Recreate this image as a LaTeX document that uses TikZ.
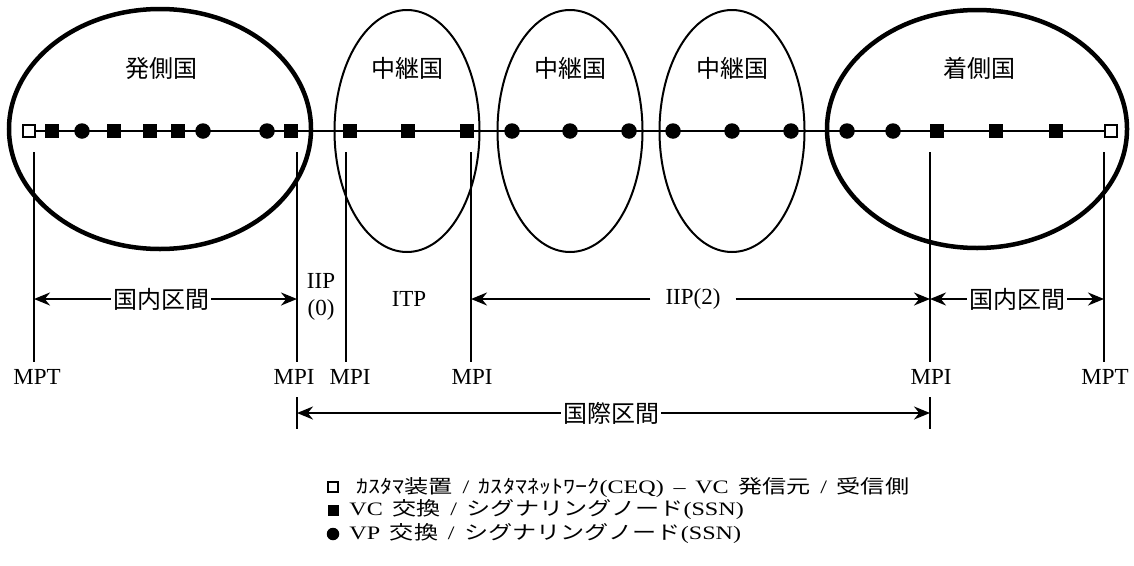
\documentclass[tikz,border=0pt]{standalone}
\usepackage{fontspec}
\setmainfont{Liberation Serif}
\newfontfamily\jp{Noto Sans CJK JP}
\newfontfamily\keyfont[WordSpace=1.6]{Liberation Serif}
\usetikzlibrary{arrows.meta,shapes.geometric}

\begin{document}
\begin{tikzpicture}[x=1pt,y=-1pt,>={Stealth[length=16pt,width=13pt]},line width=2.2pt,
  vc/.style={fill=black,minimum size=14pt,inner sep=0pt},
  ceq/.style={draw=black,line width=1.8pt,fill=white,minimum size=12pt,inner sep=0pt},
  vp/.style={circle,fill=black,minimum size=15.5pt,inner sep=0pt},
  endland/.style={ellipse,draw,line width=4.5pt,inner sep=0pt},
  transit/.style={ellipse,draw,line width=2pt,inner sep=0pt,minimum width=145pt,minimum height=242pt},
  cname/.style={font=\jp\fontsize{24}{28}\selectfont},
  mp/.style={font=\fontsize{23}{26}\selectfont,inner sep=6pt},
  span/.style={font=\jp\fontsize{24}{28}\selectfont,inner sep=1pt},
  key/.style={anchor=west,xscale=1.27,transform shape,font=\keyfont\fontsize{19}{22}\selectfont,inner sep=0pt}]
\useasboundingbox (0,0) rectangle (1134,565);
% countries
\node[endland,minimum width=302pt,minimum height=240pt] (orig) at (160,129) {};
\node[transit] (trA) at (407,131) {};
\node[transit] (trB) at (570,131) {};
\node[transit] (trC) at (732,131) {};
\node[endland,minimum width=300pt,minimum height=238pt] (dest) at (977,129) {};
\node[cname] at (161,68) {発側国};
\node[cname] at (407,68) {中継国};
\node[cname] at (570,68) {中継国};
\node[cname] at (732,68) {中継国};
\node[cname] at (979,68) {着側国};
% nodes on the connection
\node[ceq] (ceqA) at (29,131) {};
\node[vc] (vcA1) at (52,131) {};
\node[vp] (vpA1) at (82,131) {};
\node[vc] (vcA2) at (114,131) {};
\node[vc] (vcA3) at (150,131) {};
\node[vc] (vcA4) at (178,131) {};
\node[vp] (vpA2) at (203,131) {};
\node[vp] (vpA3) at (267,131) {};
\node[vc] (vcA5) at (291,131) {};
\node[vc] (vcB1) at (350,131) {};
\node[vc] (vcB2) at (408,131) {};
\node[vc] (vcB3) at (467,131) {};
\node[vp] (vpC1) at (512,131) {};
\node[vp] (vpC2) at (570,131) {};
\node[vp] (vpC3) at (629,131) {};
\node[vp] (vpD1) at (673,131) {};
\node[vp] (vpD2) at (732,131) {};
\node[vp] (vpD3) at (791,131) {};
\node[vp] (vpE1) at (847,131) {};
\node[vp] (vpE2) at (893,131) {};
\node[vc] (vcE1) at (937,131) {};
\node[vc] (vcE2) at (996,131) {};
\node[vc] (vcE3) at (1056,131) {};
\node[ceq] (ceqE) at (1111,131) {};
\draw (ceqA) -- (ceqE);
% measurement points
\coordinate (tA) at (34,152);
\coordinate (tB) at (297,152);
\coordinate (tC) at (346,152);
\coordinate (tD) at (471,152);
\coordinate (tE) at (930,152);
\coordinate (tF) at (1104,152);
\node[mp] (mptA) at (37,377) {MPT};
\node[mp] (mpiB) at (294,377) {MPI};
\node[mp] (mpiC) at (350,377) {MPI};
\node[mp] (mpiD) at (472,377) {MPI};
\node[mp] (mpiE) at (931,377) {MPI};
\node[mp] (mptF) at (1105,377) {MPT};
\draw (tA) -- (tA |- mptA.north);
\draw (tB) -- (tB |- mpiB.north);
\draw (tC) -- (tC |- mpiC.north);
\draw (tD) -- (tD |- mpiD.north);
\draw (tE) -- (tE |- mpiE.north);
\draw (tF) -- (tF |- mptF.north);
% sections
\coordinate (dA) at (34,299);
\coordinate (dB) at (297,299);
\coordinate (dD) at (471,299);
\coordinate (dE) at (930,299);
\coordinate (dF) at (1104,299);
\node[span] (domA) at (161,299) {国内区間};
\draw[->] (domA) -- (dA);
\draw[->] (domA) -- (dB);
\node[mp,align=center,inner sep=0pt,font=\fontsize{23}{27}\selectfont] (iip0) at (321,297) {IIP\\(0)};
\node[mp] (itp) at (409,299) {ITP};
\node[mp,inner sep=14pt] (iip2) at (693,299) {IIP(2)};
\draw[->] (iip2) -- (dD);
\draw[->] (iip2) -- (dE);
\node[span] (domE) at (1017,299) {国内区間};
\draw[->] (domE) -- (dE);
\draw[->] (domE) -- (dF);
\coordinate (iA) at (297,413);
\coordinate (iB) at (930,413);
\draw (297,397) -- (297,429);
\draw (930,397) -- (930,429);
\node[span] (intl) at (611,413) {国際区間};
\draw[->] (intl) -- (iA);
\draw[->] (intl) -- (iB);
% legend
\node[ceq,minimum size=10pt,line width=1.6pt] (keyA) at (333,487) {};
\node[vc,minimum size=11pt] (keyB) at (333,510) {};
\node[vp,minimum size=12.5pt] (keyC) at (333,534) {};
\node[key] at (355,487) {{\jp ｶｽﾀﾏ装置} / {\jp ｶｽﾀﾏﾈｯﾄﾜｰｸ}(CEQ) – VC {\jp 発信元} / {\jp 受信側}};
\node[key] at (348,510) {VC {\jp 交換} / {\jp シグナリングノード}(SSN)};
\node[key] at (348,534) {VP {\jp 交換} / {\jp シグナリングノード}(SSN)};
\end{tikzpicture}
\end{document}
